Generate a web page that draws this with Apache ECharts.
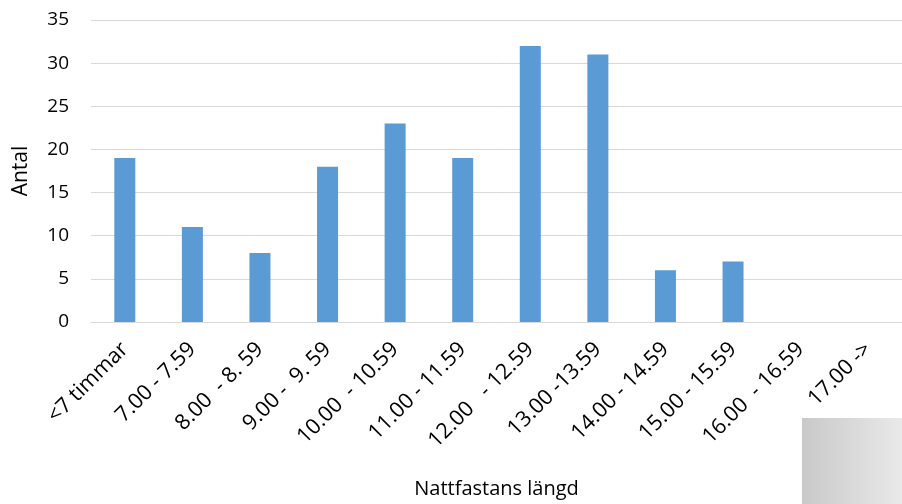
<!DOCTYPE html>
<html><head><meta charset="utf-8">
<script src="https://cdn.jsdelivr.net/npm/echarts@6/dist/echarts.min.js"></script>
<style>html,body{margin:0;padding:0;background:#fff}#c{width:902px;height:504px}</style>
</head><body><div id="c"></div>
<script>
const categories = ["<7 timmar","7.00 - 7.59","8.00  - 8. 59","9.00 -  9. 59","10.00  - 10.59","11.00 - 11.59","12.00   - 12.59","13.00 -13.59","14.00 - 14.59","15.00 - 15.59","16.00  - 16.59","17.00 ->"];
const values = [19, 11, 8, 18, 23, 19, 32, 31, 6, 7, 0, 0];
const yTicks = {min: 0, max: 35, interval: 5};
const font = "Open Sans, Lato, sans-serif";
const chart = echarts.init(document.getElementById('c'));
chart.setOption({
  animation: false,
  grid: {left: 91, right: 0, top: 20, bottom: 180, containLabel: false},
  xAxis: {
    type: 'category', data: categories,
    axisLine: {lineStyle: {color: '#d9d9d9', width: 1}},
    axisTick: {show: false},
    axisLabel: {rotate: 45, color: '#000', fontSize: 21.5, fontFamily: font, margin: 24, interval: 0},
    name: 'Nattfastans längd', nameLocation: 'middle', nameGap: 157,
    nameTextStyle: {color: '#000', fontSize: 20, fontFamily: font}
  },
  yAxis: {
    type: 'value', min: yTicks.min, max: yTicks.max, interval: yTicks.interval,
    axisLine: {show: false}, axisTick: {show: false},
    splitLine: {lineStyle: {color: '#d9d9d9', width: 1}},
    axisLabel: {color: '#000', fontSize: 19, fontFamily: font, margin: 22},
    name: 'Antal', nameLocation: 'middle', nameGap: 59, nameRotate: 90,
    nameTextStyle: {color: '#000', fontSize: 21, fontFamily: font}
  },
  series: [{type: 'bar', data: values, barWidth: 21, itemStyle: {color: '#5b9bd5'}}],
  graphic: [{
    type: 'rect', left: 802, top: 418, silent: true,
    shape: {width: 100, height: 86},
    style: {fill: new echarts.graphic.LinearGradient(0, 0, 1, 0, [{offset: 0, color: '#c9c9c9'}, {offset: 1, color: '#e9e9e9'}])}
  }]
});
</script></body></html>
